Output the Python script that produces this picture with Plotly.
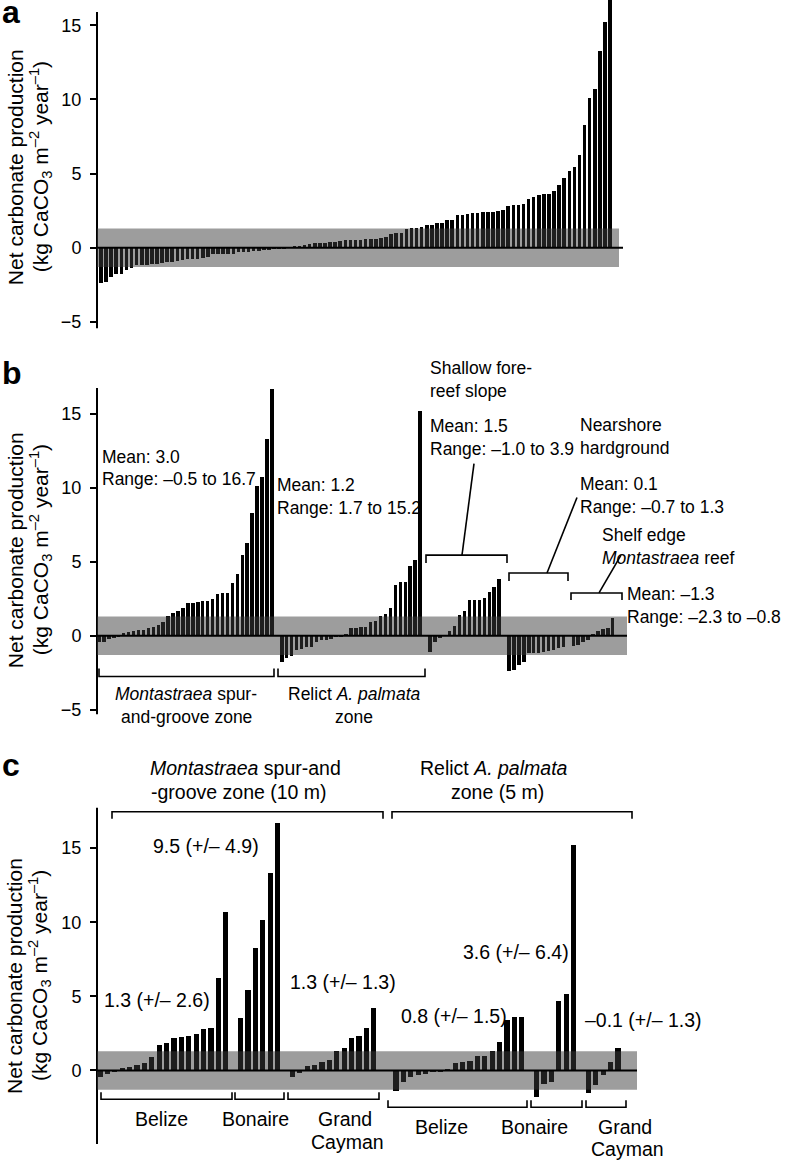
import plotly.graph_objects as go

W, H = 788, 1167
FONT = "Arial, 'Liberation Sans', Helvetica, sans-serif"

# ---------------- data (kg CaCO3 m-2 yr-1) ----------------
mont_belize = [-0.45, -0.2, -0.05, 0.18, 0.27, 0.4, 0.54, 0.92, 1.7, 1.86,
               2.2, 2.3, 2.35, 2.5, 2.8, 2.9, 6.26, 10.7]
mont_bonaire = [3.58, 5.44, 8.28, 10.13, 13.3, 16.7]
mont_cayman = [-0.45, -0.15, 0.3, 0.4, 0.56, 0.74, 1.34, 1.52, 2.2, 2.35, 2.86, 4.2]
relict_belize = [-1.34, -0.78, -0.45, -0.3, -0.2, -0.1, -0.04, 0.1, 0.5, 0.55,
                 0.62, 0.96, 1.0, 1.34, 1.9, 3.45, 3.6, 3.6]
relict_bonaire = [-1.8, -0.9, -0.78, 4.7, 5.15, 15.2]
relict_cayman = [-1.5, -0.95, -0.3, 0.6, 1.5]
forereef = [-1.07, -0.4, -0.18, 0.03, 0.31, 0.65, 1.43, 1.68, 2.4, 2.4,
            2.4, 2.55, 2.96, 3.3, 3.86]
nearshore = [-2.38, -2.3, -1.97, -1.75, -1.19, -1.19, -1.14, -1.07, -1.03,
             -0.96, -0.85, -0.74]
shelf = [-0.7, -0.63, -0.4, -0.29, 0.09, 0.31, 0.43, 0.54, 1.23]

band_half = 1.3
y_ticks = [-5, 0, 5, 10, 15]

# ---------------- helpers ----------------
def X(px):
    return px / W


def Y(py):
    return 1 - py / H


def slots(groups, gaps):
    xs, ys, pos = [], [], 0
    for g, gap in zip(groups, gaps):
        xs += list(range(pos, pos + len(g)))
        ys += list(g)
        pos += len(g) + gap
    return xs, ys


# panel a: all sites ranked
all_vals = sorted(mont_belize + mont_bonaire + mont_cayman + relict_belize +
                  relict_bonaire + relict_cayman + forereef + nearshore + shelf)
xa = list(range(len(all_vals)))
ya = all_vals

# panel b: by habitat, ranked
b_groups = [sorted(mont_belize + mont_bonaire + mont_cayman),
            sorted(relict_belize + relict_bonaire + relict_cayman),
            sorted(forereef), sorted(nearshore), sorted(shelf)]
xb, yb = slots(b_groups, [1, 1, 1, 1, 0])

# panel c: by habitat and country
c_groups = [mont_belize, mont_bonaire, mont_cayman,
            relict_belize, relict_bonaire, relict_cayman]
xc, yc = slots(c_groups, [1, 1, 2, 1, 1, 0])

fig = go.Figure()
for xs, ys, xr, yr in [(xa, ya, "x", "y"), (xb, yb, "x2", "y2"), (xc, yc, "x3", "y3")]:
    fig.add_trace(go.Bar(x=xs, y=ys, xaxis=xr, yaxis=yr, width=0.7,
                         marker=dict(color="#000000", line=dict(width=0)),
                         showlegend=False, hoverinfo="skip"))

# pixel layout of each panel
panels = {
    "a": dict(top=0, bot=330, line_top=12, zero=249, ppu=14.9, c0=101, step=5.09, band_end=619, zl_end=623),
    "b": dict(top=390, bot=718, line_top=390, zero=639, ppu=14.87, c0=99, step=4.94, band_end=627, zl_end=627),
    "c": dict(top=812, bot=1150, line_top=812, zero=1076, ppu=14.9, c0=100, step=7.4, band_end=637, zl_end=637),
}
x_left, x_right = 97, 640
axis_names = [("a", "xaxis", "yaxis", "x", "y"),
              ("b", "xaxis2", "yaxis2", "x2", "y2"),
              ("c", "xaxis3", "yaxis3", "x3", "y3")]
shapes = []
for key, xn, yn, xref, yref in axis_names:
    p = panels[key]
    fig.layout[xn] = dict(domain=[X(x_left), X(x_right)],
                          range=[(x_left - p["c0"]) / p["step"], (x_right - p["c0"]) / p["step"]],
                          visible=False, anchor=yref, fixedrange=True)
    fig.layout[yn] = dict(domain=[Y(p["bot"]), Y(p["top"])],
                          range=[(p["zero"] - p["bot"]) / p["ppu"], (p["zero"] - p["top"]) / p["ppu"]],
                          anchor=xref, showline=False,
                          ticks="outside", ticklen=6, tickwidth=2, tickcolor="black",
                          ticklabelstandoff=5,
                          tickvals=y_ticks, showgrid=False, zeroline=False,
                          tickfont=dict(family=FONT, size=18, color="black"))
    # y axis line
    shapes.append(dict(type="line", xref="paper", yref="paper", x0=X(x_left), x1=X(x_left),
                       y0=Y(p["line_top"]), y1=Y(p["bot"]), line=dict(color="black", width=2)))
    shapes.append(dict(type="rect", xref="paper", yref=yref, x0=X(x_left), x1=X(p["band_end"]),
                       y0=-band_half, y1=band_half, fillcolor="rgba(60,60,60,0.5)",
                       line=dict(width=0), layer="above"))
    shapes.append(dict(type="line", xref="paper", yref=yref, x0=X(x_left), x1=X(p["zl_end"]),
                       y0=0, y1=0, line=dict(color="black", width=2), layer="above"))


def bracket(x1, x2, y, t):
    # t > 0 : ticks go down ; t < 0 : ticks go up
    path = "M {a},{b} L {a},{c} L {d},{c} L {d},{b}".format(
        a=X(x1), b=Y(y + t), c=Y(y), d=X(x2))
    return dict(type="path", xref="paper", yref="paper", path=path,
                line=dict(color="black", width=1.6))


def seg(x1, y1, x2, y2):
    return dict(type="line", xref="paper", yref="paper", x0=X(x1), y0=Y(y1),
                x1=X(x2), y1=Y(y2), line=dict(color="black", width=1.6))


# panel b brackets
shapes += [bracket(426, 507, 558, 8), seg(462, 558, 474, 466),
           bracket(509, 568, 576, 8), seg(547, 576, 577, 500),
           bracket(571, 622, 596, 7), seg(599, 596, 621, 558),
           bracket(99, 274, 680, -8), bracket(278, 425, 680, -8)]
# panel c brackets
shapes += [bracket(112, 383, 816, 7), bracket(392, 632, 816, 7),
           bracket(101, 232, 1105, -7), bracket(235, 284, 1105, -7), bracket(288, 379, 1105, -7),
           bracket(388, 527, 1113, -7), bracket(531, 582, 1113, -7), bracket(586, 626, 1113, -7)]

annotations = []


def txt(s, x, y, size=17.5, xanchor="left", bold=False, angle=0):
    annotations.append(dict(text=("<b>%s</b>" % s) if bold else s, x=X(x), y=Y(y),
                            xref="paper", yref="paper", xanchor=xanchor, yanchor="middle",
                            showarrow=False, textangle=angle,
                            font=dict(family=FONT, size=size, color="black")))


# panel letters
txt("a", 0, 12, size=32, bold=True)
txt("b", 0, 375, size=32, bold=True)
txt("c", 0, 769, size=32, bold=True)

# y-axis titles
for cy in [168, 553, 981]:
    txt("Net carbonate production", 15, cy, size=21, xanchor="center", angle=-90)
    txt("(kg CaCO<sub>3</sub> m<sup>\u20132</sup> year<sup>\u20131</sup>)", 40, cy,
        size=21, xanchor="center", angle=-90)

# panel b text
txt("Mean: 3.0", 100, 459)
txt("Range: \u20130.5 to 16.7", 100, 481)
txt("Mean: 1.2", 275, 488)
txt("Range: 1.7 to 15.2", 275, 511)
txt("Shallow fore-", 428, 370)
txt("reef slope", 428, 393)
txt("Mean: 1.5", 428, 428)
txt("Range: \u20131.0 to 3.9", 428, 451)
txt("Nearshore", 578, 427)
txt("hardground", 578, 450)
txt("Mean: 0.1", 578, 487)
txt("Range: \u20130.7 to 1.3", 578, 510)
txt("Shelf edge", 600, 538)
txt("<i>Montastraea</i> reef", 600, 561)
txt("Mean: \u20131.3", 625, 597)
txt("Range: \u20132.3 to \u20130.8", 625, 620)
txt("<i>Montastraea</i> spur-", 186, 698, xanchor="center")
txt("and-groove zone", 186, 721, xanchor="center")
txt("Relict <i>A. palmata</i>", 354, 698, xanchor="center")
txt("zone", 354, 721, xanchor="center")

# panel c text
CS = 19.5
txt("<i>Montastraea</i> spur-and", 245, 772, size=CS, xanchor="center")
txt("-groove zone (10 m)", 239, 796, size=CS, xanchor="center")
txt("Relict <i>A. palmata</i>", 494, 772, size=CS, xanchor="center")
txt("zone (5 m)", 497, 796, size=CS, xanchor="center")
txt("9.5 (+/\u2013 4.9)", 206, 850, size=CS, xanchor="center")
txt("1.3 (+/\u2013 2.6)", 157, 1005, size=CS, xanchor="center")
txt("1.3 (+/\u2013 1.3)", 343, 987, size=CS, xanchor="center")
txt("0.8 (+/\u2013 1.5)", 454, 1021, size=CS, xanchor="center")
txt("3.6 (+/\u2013 6.4)", 516, 957, size=CS, xanchor="center")
txt("\u20130.1 (+/\u2013 1.3)", 643, 1025, size=CS, xanchor="center")
txt("Belize", 161, 1125, size=CS, xanchor="center")
txt("Bonaire", 255, 1125, size=CS, xanchor="center")
txt("Grand", 345, 1125, size=CS, xanchor="center")
txt("Cayman", 347, 1148, size=CS, xanchor="center")
txt("Belize", 441, 1133, size=CS, xanchor="center")
txt("Bonaire", 534, 1133, size=CS, xanchor="center")
txt("Grand", 625, 1133, size=CS, xanchor="center")
txt("Cayman", 627, 1155, size=CS, xanchor="center")

fig.update_layout(width=W, height=H, margin=dict(l=0, r=0, t=0, b=0),
                  paper_bgcolor="white", plot_bgcolor="white",
                  shapes=shapes, annotations=annotations, bargap=0,
                  font=dict(family=FONT, color="black"))

fig.write_html("out.html", config={"displayModeBar": False},
               post_script="document.body.style.margin='0px';")
